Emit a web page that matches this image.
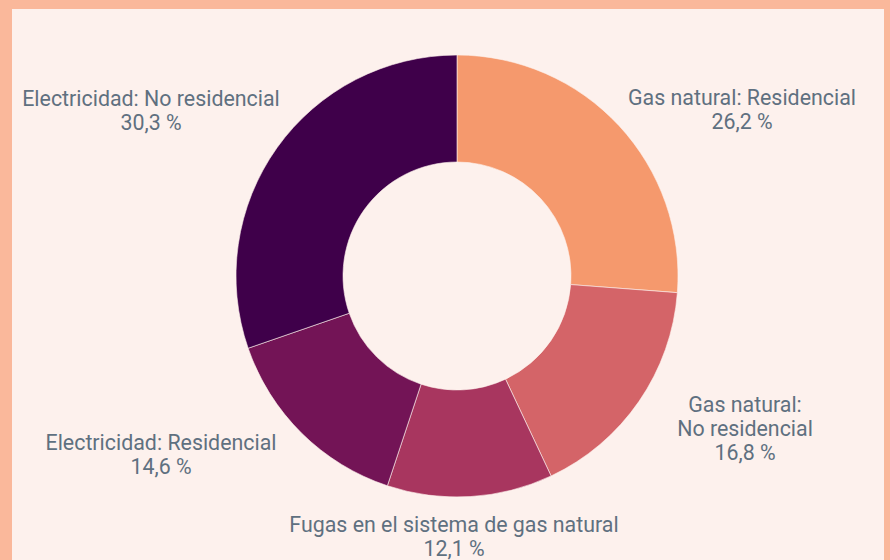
<!DOCTYPE html>
<html>
<head>
<meta charset="utf-8">
<script src="https://cdn.jsdelivr.net/npm/d3@7"></script>
<style>
  body { margin: 0; background: #fab89b; }
  svg { display: block; }
  .label { font-family: Roboto, sans-serif; fill: #5f7080; }
</style>
</head>
<body>
<div id="chart"></div>
<script>
//chart data, clockwise from 12 o'clock
var categories = [
  "Gas natural: Residencial",
  "Gas natural: No residencial",
  "Fugas en el sistema de gas natural",
  "Electricidad: Residencial",
  "Electricidad: No residencial"
];
var shares = [26.2, 16.8, 12.1, 14.6, 30.3];
var colors = ["#f5996d", "#d46468", "#a8365f", "#731456", "#3f004a"];

//label lines (some labels wrap in the original)
var labelLines = [
  ["Gas natural: Residencial"],
  ["Gas natural:", "No residencial"],
  ["Fugas en el sistema de gas natural"],
  ["Electricidad: Residencial"],
  ["Electricidad: No residencial"]
];

var width = 890,
  height = 560;

var cx = 457,
  cy = 276,
  outerR = 221,
  innerR = 114;

var svg = d3
  .select("#chart")
  .append("svg")
  .attr("width", width)
  .attr("height", height);

//light panel inside the salmon frame
svg
  .append("rect")
  .attr("x", 12)
  .attr("y", 9)
  .attr("width", 872)
  .attr("height", height)
  .attr("fill", "#fdf1ed");

var pie = d3
  .pie()
  .sort(null)
  .value(function(d) {
    return d;
  });

var arc = d3
  .arc()
  .innerRadius(innerR)
  .outerRadius(outerR);

var arcs = pie(shares);

var g = svg.append("g").attr("transform", "translate(" + cx + "," + cy + ")");

g.selectAll("path")
  .data(arcs)
  .enter()
  .append("path")
  .attr("d", arc)
  .attr("fill", function(d, i) {
    return colors[i];
  })
  .attr("stroke", "#fdf1ed")
  .attr("stroke-width", 0.6);

//label anchor positions relative to the donut centre (layout, not data)
var labelOffsets = [
  [285, -171],
  [288, 136],
  [-3, 256],
  [-296, 174],
  [-306, -170]
];

var fmt = function(v) {
  return d3.format(".1f")(v).replace(".", ",") + " %";
};

var lineH = 24;

arcs.forEach(function(d, i) {
  var lines = labelLines[i].concat([fmt(shares[i])]);
  var t = g
    .append("text")
    .attr("class", "label")
    .attr("text-anchor", "middle")
    .attr("font-size", 23)
    .attr(
      "transform",
      "translate(" + labelOffsets[i][0] + "," + labelOffsets[i][1] + ") scale(0.93,1)"
    );
  lines.forEach(function(l, j) {
    t.append("tspan")
      .attr("x", 0)
      .attr("y", j * lineH)
      .text(l);
  });
});
</script>
</body>
</html>
